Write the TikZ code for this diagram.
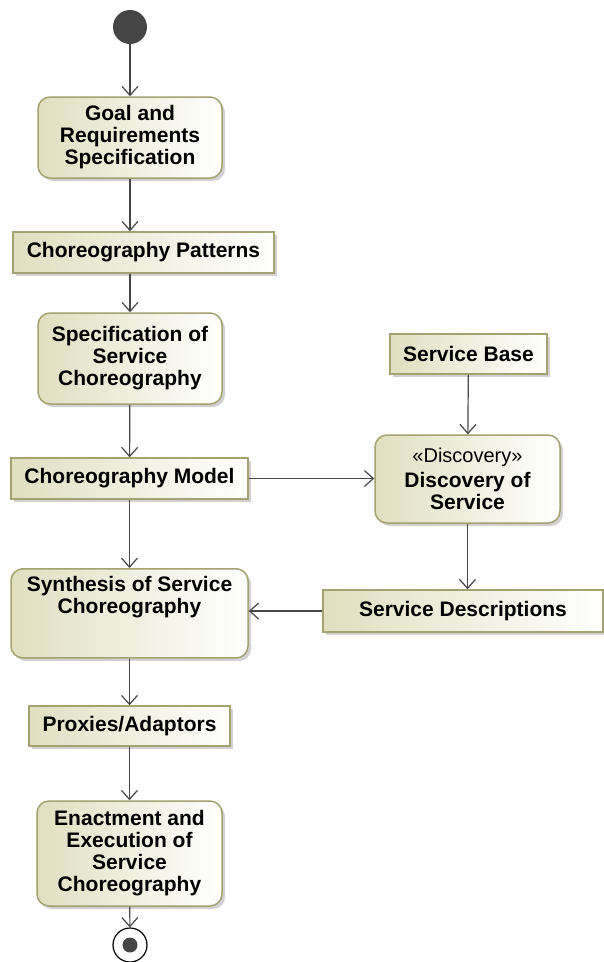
\documentclass[tikz,border=0pt]{standalone}
\usepackage{fontspec}
\setmainfont{Liberation Sans}
\usetikzlibrary{
    arrows.meta,
    positioning,
    shadows
}
\definecolor{actfill}{RGB}{224, 223, 192}
\definecolor{actdraw}{RGB}{163, 162, 112}
\definecolor{flowgray}{RGB}{70, 70, 70}

\begin{document}
\begin{tikzpicture}[
        x=1pt, y=-1pt,
        actbox/.style={rectangle, draw=actdraw, line width=1.5pt, rounded corners=12pt, left color=actfill, right color=white, drop shadow={shadow xshift=3pt, shadow yshift=-3pt, fill=black!30, opacity=0.6}, align=center, inner sep=4pt, font=\fontsize{21}{22}\selectfont\bfseries},
        objbox/.style={actbox, sharp corners},
        arrow/.style={-{Straight Barb[length=9pt, width=16pt]}, draw=flowgray, line width=1.2pt},
        pin/.style={circle, inner sep=0pt, minimum size=34pt}
    ]
        \useasboundingbox (0,0) rectangle (604,962);

        % Start
        \node[pin, fill=flowgray] (start) at (130,27) {};

        % Main flow
        \node[actbox, minimum width=184pt, minimum height=81pt] (goal) at (130,137.5) {Goal and\\Requirements\\Specification};
        \node[objbox, minimum width=261pt, minimum height=41pt] (patterns) at (143.5,252.5) {Choreography Patterns};
        \node[actbox, minimum width=184pt, minimum height=91pt] (spec) at (130,358.5) {Specification of\\Service\\Choreography};
        \node[objbox, minimum width=237pt, minimum height=41pt] (model) at (129.5,478.5) {Choreography Model};
        \node[actbox, minimum width=237pt, inner ysep=8pt, text depth=36pt, anchor=north] (synth) at (129.5,568) {Synthesis of Service\\Choreography};
        \node[objbox, minimum width=201pt, minimum height=40pt] (proxies) at (129.5,726) {Proxies/Adaptors};
        \node[actbox, minimum width=185pt, minimum height=105pt] (enact) at (129.5,853.5) {Enactment and\\Execution of\\Service\\Choreography};

        % Final
        \node[pin, draw=black, line width=1.2pt, fill=white, path picture={\fill[flowgray] (path picture bounding box.center) circle (7.5pt);}] (final) at (130,945) {};

        % Discovery branch
        \node[objbox, minimum width=157pt, minimum height=40pt] (base) at (468.5,354) {Service Base};
        \node[actbox, minimum width=185pt, minimum height=88pt] (disc) at (467.5,479) {{\fontsize{20}{22}\selectfont\mdseries «Discovery»}\\[3pt]Discovery of\\Service};
        \node[objbox, minimum width=280pt, minimum height=42pt] (descr) at (463,611) {Service Descriptions};

        % Arrows
        \draw[arrow] (start) -- (goal);
        \draw[arrow] (goal) -- (goal |- patterns.north);
        \draw[arrow] (spec |- patterns.south) -- (spec);
        \draw[arrow] (spec) -- (model);
        \draw[arrow] (model) -- (synth);
        \draw[arrow] (model.east) -- (model.east -| disc.west);
        \draw[arrow] (base) -- (disc);
        \draw[arrow] (disc) -- (disc |- descr.north);
        \draw[arrow] (descr.west) -- (descr.west -| synth.east);
        \draw[arrow] (synth) -- (proxies);
        \draw[arrow] (proxies) -- (enact);
        \draw[arrow] (enact) -- (final);
    \end{tikzpicture}
\end{document}
